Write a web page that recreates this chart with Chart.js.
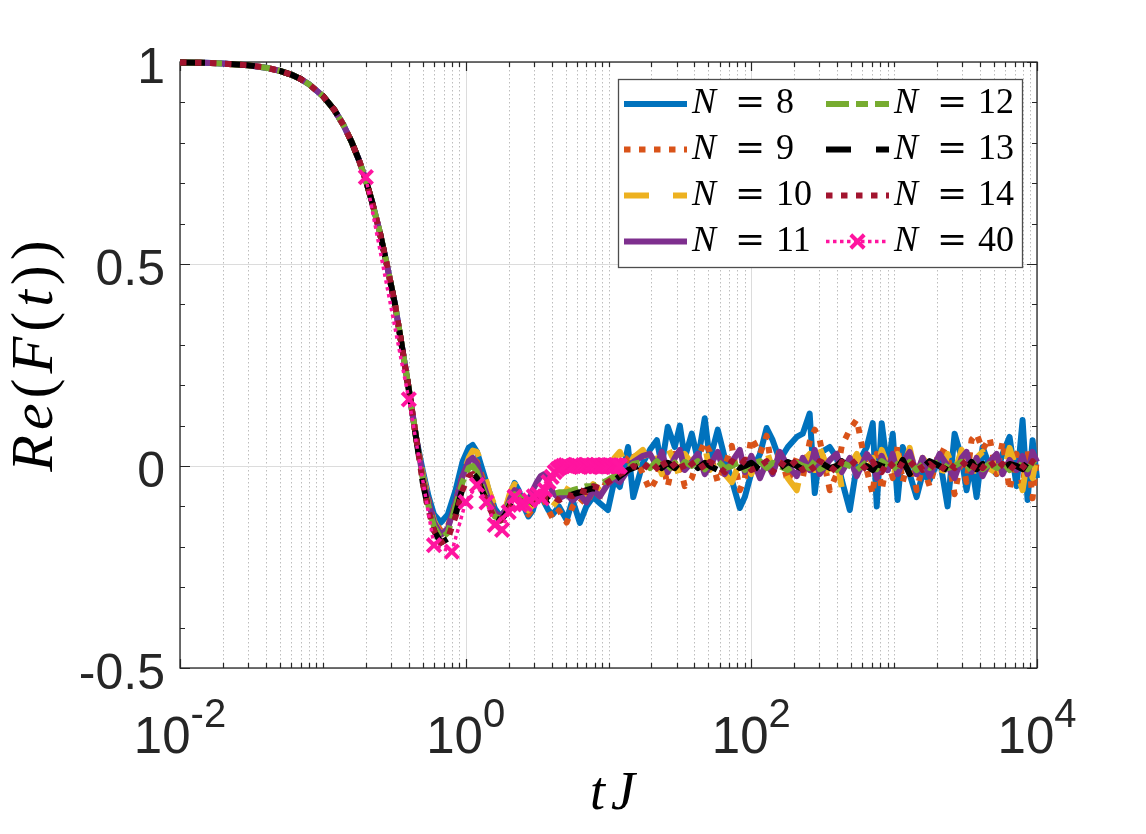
<!DOCTYPE html>
<html><head><meta charset="utf-8">
<script src="https://cdn.jsdelivr.net/npm/chart.js@4.4.1/dist/chart.umd.min.js"></script>
<style>html,body{margin:0;padding:0;background:#fff;}canvas{display:block;}</style>
</head><body>
<canvas id="c" width="1146" height="834"></canvas>
<script>
// ---------- data ----------
const tDecay = [0.01,0.015,0.02,0.03,0.04,0.05,0.06,0.07,0.08,0.1,0.12,0.14,0.16,0.18,0.2,0.22,0.25,0.28,0.32,0.36,0.4,0.45];
const fDecay = [0.999,0.998,0.996,0.992,0.986,0.978,0.969,0.958,0.945,0.916,0.882,0.843,0.800,0.755,0.707,0.657,0.58,0.50,0.40,0.29,0.19,0.07];

const tMid = [0.5,0.55,0.6,0.67,0.75,0.85,0.95,1.05,1.12,1.2,1.3,1.45,1.6,1.75,1.9,2.05,2.2,2.35];
const tTail = [2.55,2.75,2.95,3.15,3.35,3.55,3.8,4.07,4.5,5.1,5.6,6.3,7.0,7.8,8.7,9.9,11,12,13.7,14.9,17.4,19.5,21.8,23.6,26,29.1,31.6,34.2,38.3,42.2,47.2,51.2,58.2,65.2,73,83,90,100,115,128,141,158,180,208,229,256,278,301,354,396,430,489,547,643,708,755,818,902,977,1057,1148,1284,1436,1582,1771,2080,2366,2649,2965,3213,3483,3776,4159,4656,5212,5741,6427,7194,7925,8590,9311,10000];

const n8Mid  = [-0.01,-0.075,-0.12,-0.14,-0.12,-0.06,0.01,0.045,0.052,0.035,-0.005,-0.06,-0.105,-0.125,-0.11,-0.07,-0.042,-0.06];
const n9Mid  = [-0.02,-0.085,-0.135,-0.16,-0.15,-0.09,-0.025,0.01,0.02,0.01,-0.025,-0.075,-0.11,-0.125,-0.11,-0.08,-0.06,-0.075];
const n10Mid = [-0.02,-0.085,-0.135,-0.17,-0.16,-0.095,-0.025,0.02,0.038,0.035,0.005,-0.06,-0.1,-0.12,-0.105,-0.065,-0.045,-0.055];
const n11Mid = [-0.025,-0.09,-0.14,-0.17,-0.155,-0.09,-0.025,0.012,0.02,0.005,-0.035,-0.085,-0.115,-0.125,-0.11,-0.08,-0.06,-0.065];
const n12Mid = [-0.03,-0.1,-0.15,-0.18,-0.165,-0.1,-0.04,-0.005,0.0,-0.015,-0.05,-0.095,-0.125,-0.13,-0.115,-0.085,-0.07,-0.075];
const n13Mid = [-0.04,-0.11,-0.16,-0.19,-0.18,-0.12,-0.055,-0.02,-0.017,-0.03,-0.06,-0.1,-0.128,-0.135,-0.12,-0.095,-0.08,-0.082];
const n14Mid = [-0.04,-0.11,-0.16,-0.19,-0.18,-0.125,-0.06,-0.025,-0.02,-0.035,-0.065,-0.1,-0.13,-0.135,-0.12,-0.1,-0.085,-0.085];

const n8Tail = [-0.1,-0.125,-0.11,-0.075,-0.064,-0.09,-0.11,-0.12,-0.1,-0.134,
 -0.084,-0.141,-0.1,-0.077,-0.092,-0.109,-0.035,-0.052,0.047,-0.077,
 0.007,0.04,0.064,0.0,0.097,0.047,0.10,0.02,0.08,0.015,
 0.118,0.015,0.09,0.02,-0.035,-0.104,-0.077,-0.017,0.03,0.094,
 0.064,0.015,0.047,0.072,0.08,0.13,-0.067,0.032,0.047,0.02,
 -0.035,-0.109,0.0,0.047,0.106,-0.1,0.106,-0.01,0.08,-0.084,
 0.047,-0.02,-0.077,-0.02,-0.035,0.02,-0.1,0.08,0.02,-0.06,
 0.01,-0.077,0.047,0.0,-0.02,0.03,0.072,-0.05,0.114,-0.084,
 0.064,-0.03];
const n9Tail = [-0.1,-0.12,-0.105,-0.08,-0.07,-0.085,-0.11,-0.13,-0.11,-0.14,
 -0.1,-0.08,-0.095,-0.06,-0.075,-0.03,0.0,-0.02,0.02,0.035,
 -0.02,-0.06,-0.03,0.02,-0.05,0.03,0.0,-0.05,-0.03,0.02,
 0.06,0.035,-0.04,0.0,0.05,-0.06,-0.03,0.07,0.03,0.075,
 -0.02,0.04,-0.04,0.02,-0.03,0.06,0.09,0.065,-0.06,-0.02,
 0.05,0.09,0.115,-0.01,-0.07,0.03,-0.06,0.02,-0.03,0.05,
 -0.04,0.03,-0.06,0.0,-0.05,0.04,0.03,-0.07,0.02,-0.04,
 0.065,0.08,0.04,0.07,-0.02,0.06,-0.06,0.03,-0.05,0.04,
 -0.08,0.02];
const n10Tail = [-0.09,-0.11,-0.095,-0.07,-0.06,-0.07,-0.09,-0.1,-0.08,-0.06,
 -0.035,-0.05,-0.07,-0.045,-0.06,-0.02,0.02,0.035,-0.01,0.02,
 0.04,0.0,0.03,-0.02,0.045,0.01,-0.03,0.03,0.005,0.04,
 0.05,-0.01,0.02,-0.02,-0.04,0.01,0.03,-0.02,0.025,0.04,
 -0.01,0.02,-0.03,-0.06,0.01,0.03,-0.01,0.045,-0.02,0.02,
 -0.055,0.0,0.03,-0.03,0.02,-0.02,0.04,0.0,-0.04,0.03,
 -0.01,0.045,-0.03,0.02,0.0,-0.035,0.03,-0.015,0.04,0.0,
 -0.03,0.02,0.035,-0.02,0.01,-0.03,0.045,-0.01,-0.06,0.02,
 -0.03,0.03];
const n11Tail = [-0.09,-0.085,-0.06,-0.04,-0.025,-0.02,-0.04,-0.065,-0.08,-0.07,
 -0.085,-0.07,-0.09,-0.06,-0.075,-0.045,-0.03,-0.04,-0.01,0.01,
 0.025,0.03,0.0,0.035,-0.015,0.02,0.04,-0.01,0.01,0.03,
 -0.02,0.0,0.035,-0.02,0.01,0.04,-0.015,0.025,-0.03,0.01,
 -0.02,0.035,0.0,-0.025,0.02,-0.01,0.04,-0.02,0.015,0.03,
 -0.015,0.02,-0.025,0.03,0.01,-0.03,0.025,-0.01,0.03,-0.02,
 0.01,0.035,-0.02,0.02,-0.025,0.03,0.0,-0.03,0.02,0.035,
 -0.015,0.02,-0.025,0.01,0.03,-0.02,0.015,-0.01,0.025,-0.02,
 0.035,0.01];
const n12Tail = [-0.085,-0.09,-0.08,-0.07,-0.068,-0.07,-0.075,-0.07,-0.065,-0.065,
 -0.06,-0.055,-0.05,-0.05,-0.045,-0.035,-0.025,-0.015,-0.005,0.005,
 0.01,-0.005,0.012,0.0,-0.01,0.008,-0.005,0.01,0.0,0.012,
 -0.008,0.005,0.012,-0.005,0.0,0.01,-0.01,0.005,0.012,-0.005,
 0.008,0.0,-0.01,0.008,0.0,-0.005,0.012,-0.008,0.005,-0.01,
 0.008,0.0,-0.01,0.01,0.0,-0.008,0.012,0.0,-0.01,0.005,
 -0.005,0.01,-0.01,0.005,-0.005,0.012,-0.005,0.0,0.01,-0.01,
 0.0,0.008,-0.008,0.005,-0.005,0.01,-0.01,0.005,0.0,-0.008,
 0.01,0.0];
const n13Tail = [-0.09,-0.1,-0.09,-0.075,-0.07,-0.075,-0.085,-0.08,-0.075,-0.08,
 -0.07,-0.065,-0.06,-0.055,-0.06,-0.05,-0.035,-0.025,-0.01,-0.005,
 0.005,0.0,0.01,-0.005,0.008,-0.005,0.01,0.0,0.012,-0.005,
 0.008,0.0,-0.01,0.005,0.01,-0.005,0.0,0.008,-0.01,0.005,
 0.0,-0.005,0.01,0.0,-0.008,0.005,0.0,0.01,-0.005,0.0,
 0.012,-0.005,0.008,0.0,-0.01,0.005,0.0,-0.005,0.01,-0.01,
 0.015,-0.02,0.01,-0.005,0.012,0.0,-0.01,0.008,0.0,-0.005,
 0.01,-0.008,0.005,0.0,0.008,-0.005,0.005,0.0,-0.008,0.01,
 -0.005,0.0];
const n14Tail = [-0.09,-0.095,-0.085,-0.08,-0.07,-0.08,-0.08,-0.075,-0.085,-0.07,
 -0.075,-0.06,-0.065,-0.05,-0.055,-0.04,-0.03,-0.02,-0.01,0.0,
 -0.01,0.012,-0.005,0.015,-0.01,0.005,0.015,-0.012,0.005,0.015,
 -0.01,0.01,0.0,-0.015,0.012,0.0,0.015,-0.01,0.0,0.012,
 -0.015,0.01,-0.005,0.015,-0.01,0.005,-0.012,0.012,0.0,-0.015,
 0.01,0.0,0.015,-0.01,0.01,-0.005,-0.015,0.012,0.0,-0.012,
 0.01,0.0,0.015,-0.01,0.005,-0.015,0.01,-0.005,0.012,0.0,
 -0.012,0.01,-0.005,0.015,-0.01,0.005,-0.012,0.01,0.0,-0.01,
 0.012,-0.005];

const tN40 = [0.2,0.4,0.6,0.8,1.0,1.2,1.4,1.6,1.8,2.0,2.2,2.4,2.6,2.8,3.0,3.2,3.4,3.6,3.8,4.0,
 4.2,4.4,4.6,4.8,5.0,5.2,5.4,5.6,5.8,6.0,6.2,6.4,6.6,6.8,7.0,7.2,7.4,7.6,7.8,8.0,
 8.2,8.4,8.6,8.8,9.0,9.2,9.4,9.6,9.8,10.0,10.2,10.4,10.6,10.8,11.0,11.2,11.4,11.6,11.8,12.0];
const fN40 = [0.715,0.165,-0.196,-0.212,-0.089,-0.047,-0.09,-0.146,-0.158,-0.114,
 -0.076,-0.096,-0.095,-0.085,-0.075,-0.07,-0.08,-0.06,-0.04,-0.027,
 -0.015,-0.008,-0.003,0.0,0.002,0.0,-0.002,0.0,0.003,0.001,
 0.0,-0.002,0.002,0.0,0.003,0.0,-0.002,0.001,0.002,0.0,
 -0.001,0.002,0.0,0.001,-0.002,0.0,0.002,0.001,0.0,-0.001,
 0.002,0.0,0.001,-0.002,0.0,0.002,0.0,0.001,-0.001,0.0];

const legendNums = ['8','9','10','11','12','13','14','40'];
const xMajor = [0.01, 1, 100, 10000];
const xExp = ['-2','0','2','4'];
const yTicks = [-0.5, 0, 0.5, 1];
const yLabels = ['-0.5','0','0.5','1'];

// ---------- styles ----------
const styles = [
  {color:'#0072BD', width:6, dash:[]},
  {color:'#D95319', width:6, dash:[6.5,8.5]},
  {color:'#EDB120', width:6, dash:[25,24]},
  {color:'#7E2F8E', width:6, dash:[]},
  {color:'#77AC30', width:6, dash:[23,7,12,7]},
  {color:'#000000', width:6, dash:[25,25]},
  {color:'#A2142F', width:6, dash:[6.5,8.5]},
  {color:'#FF149F', width:3.5, dash:[3.5,3.5], marker:true}
];

const tAll = tDecay.concat(tMid, tTail);
const pts = (t, v) => t.map((x, i) => ({x: x, y: v[i]}));
const seriesValues = [
  fDecay.concat(n8Mid, n8Tail),
  fDecay.concat(n9Mid, n9Tail),
  fDecay.concat(n10Mid, n10Tail),
  fDecay.concat(n11Mid, n11Tail),
  fDecay.concat(n12Mid, n12Tail),
  fDecay.concat(n13Mid, n13Tail),
  fDecay.concat(n14Mid, n14Tail)
];
const datasets = seriesValues.map((v, i) => ({
  label: 'N = ' + legendNums[i],
  data: pts(tAll, v),
  borderColor: styles[i].color,
  borderWidth: styles[i].width,
  borderDash: styles[i].dash,
  borderCapStyle: 'butt',
  borderJoinStyle: 'round',
  pointRadius: 0,
  fill: false,
  order: 7 - i,
  clip: 6
}));
datasets.push({
  label: 'N = 40',
  data: pts(tN40, fN40),
  borderColor: styles[7].color,
  borderWidth: styles[7].width,
  borderDash: styles[7].dash,
  borderCapStyle: 'butt',
  pointStyle: 'crossRot',
  pointRadius: 9.5,
  pointBorderWidth: 4,
  pointBorderColor: styles[7].color,
  pointBackgroundColor: styles[7].color,
  fill: false,
  order: 0,
  clip: 10
});

const AX = '#262626';
const axesPlugin = {
  id: 'matlabAxes',
  beforeDatasetsDraw(chart) {
    const {ctx, chartArea: a, scales: {x, y}} = chart;
    const isMajor = v => xMajor.some(M => Math.abs(M - v) / M < 1e-9);
    const xAll = [];
    for (let k = -2; k < 4; k++) for (let m = 1; m < 10; m++) xAll.push(m * Math.pow(10, k));
    xAll.push(10000);
    ctx.save();
    ctx.lineWidth = 1;
    ctx.strokeStyle = '#bdbdbd';
    ctx.setLineDash([1.5, 2.5]);
    xAll.forEach(v => {
      if (isMajor(v)) return;
      const px = Math.round(x.getPixelForValue(v)) + 0.5;
      ctx.beginPath(); ctx.moveTo(px, a.top); ctx.lineTo(px, a.bottom); ctx.stroke();
    });
    ctx.setLineDash([]);
    ctx.strokeStyle = '#dcdcdc';
    xMajor.forEach(v => {
      const px = Math.round(x.getPixelForValue(v)) + 0.5;
      ctx.beginPath(); ctx.moveTo(px, a.top); ctx.lineTo(px, a.bottom); ctx.stroke();
    });
    yTicks.forEach(v => {
      const py = Math.round(y.getPixelForValue(v)) + 0.5;
      ctx.beginPath(); ctx.moveTo(a.left, py); ctx.lineTo(a.right, py); ctx.stroke();
    });
    ctx.strokeStyle = AX; ctx.lineWidth = 1.3;
    ctx.strokeRect(a.left, a.top, a.right - a.left, a.bottom - a.top);
    ctx.lineWidth = 1.2;
    xAll.forEach(v => {
      const px = Math.round(x.getPixelForValue(v)) + 0.5;
      const len = isMajor(v) ? 9 : 5;
      ctx.beginPath();
      ctx.moveTo(px, a.bottom); ctx.lineTo(px, a.bottom - len);
      ctx.moveTo(px, a.top); ctx.lineTo(px, a.top + len);
      ctx.stroke();
    });
    for (let i = -5; i <= 10; i++) {
      const v = i / 10;
      const py = Math.round(y.getPixelForValue(v)) + 0.5;
      const len = (i % 5 === 0) ? 10 : 5;
      ctx.beginPath();
      ctx.moveTo(a.left, py); ctx.lineTo(a.left + len, py);
      ctx.moveTo(a.right, py); ctx.lineTo(a.right - len, py);
      ctx.stroke();
    }
    ctx.restore();
  },
  afterDraw(chart) {
    const {ctx, chartArea: a, scales: {x, y}} = chart;
    ctx.save();
    ctx.fillStyle = AX;
    ctx.font = '50px "Liberation Sans", Arial, sans-serif';
    ctx.textAlign = 'right'; ctx.textBaseline = 'alphabetic';
    yTicks.forEach((v, i) => {
      ctx.fillText(yLabels[i], 165, y.getPixelForValue(v) + 21);
    });
    ctx.textAlign = 'left';
    xMajor.forEach((v, i) => {
      const px = x.getPixelForValue(v);
      ctx.font = '51px "Liberation Sans", Arial, sans-serif';
      const wb = ctx.measureText('10').width;
      ctx.font = '40px "Liberation Sans", Arial, sans-serif';
      const we = ctx.measureText(xExp[i]).width;
      const x0 = px - (wb + we) / 2;
      ctx.font = '51px "Liberation Sans", Arial, sans-serif';
      ctx.fillText('10', x0, 753);
      ctx.font = '40px "Liberation Sans", Arial, sans-serif';
      ctx.fillText(xExp[i], x0 + wb, 727);
    });
    // x title tJ
    ctx.fillStyle = '#000';
    ctx.font = 'italic 54px "Liberation Serif", serif';
    ctx.textAlign = 'left';
    const wt = ctx.measureText('t').width, wj = ctx.measureText('J').width;
    const gap = 6;
    const xs0 = (a.left + a.right) / 2 + 4 - (wt + gap + wj) / 2;
    ctx.fillText('t', xs0, 809);
    ctx.fillText('J', xs0 + wt + gap, 809);
    // y title (rotated)
    const segs = [['R', true], ['e', true], ['(', false], ['F', true], ['(', false], ['t', true], [')', false], [')', false]];
    const fs = 60, sp = 5;
    const fontOf = it => (it ? 'italic ' : '') + fs + 'px "Liberation Serif", serif';
    let total = 0;
    segs.forEach(s => { ctx.font = fontOf(s[1]); total += ctx.measureText(s[0]).width + sp; });
    total -= sp;
    ctx.translate(52, 356);
    ctx.rotate(-Math.PI / 2);
    let cx = -total / 2;
    segs.forEach(s => { ctx.font = fontOf(s[1]); ctx.fillText(s[0], cx, 0); cx += ctx.measureText(s[0]).width + sp; });
    ctx.restore();

    // legend
    ctx.save();
    const L = {left: 618, top: 79, right: 1022, bottom: 267};
    ctx.fillStyle = '#fff';
    ctx.fillRect(L.left, L.top, L.right - L.left, L.bottom - L.top);
    ctx.strokeStyle = '#4d4d4d'; ctx.lineWidth = 1.3;
    ctx.strokeRect(L.left + 0.5, L.top + 0.5, L.right - L.left, L.bottom - L.top);
    const colX = [624, 826];
    const textX = [692, 894];
    const rowY = [104, 149.5, 195.5, 241.5];
    legendNums.forEach((num, i) => {
      const col = Math.floor(i / 4), row = i % 4;
      const st = styles[i];
      const yy = rowY[row];
      const x0 = colX[col], x1 = x0 + 63;
      ctx.strokeStyle = st.color; ctx.lineWidth = st.width;
      ctx.lineCap = 'butt';
      ctx.setLineDash(st.dash);
      ctx.beginPath(); ctx.moveTo(x0, yy); ctx.lineTo(x1, yy); ctx.stroke();
      ctx.setLineDash([]);
      if (st.marker) {
        const r = 9.5 * Math.SQRT1_2, cxm = (x0 + x1) / 2;
        ctx.lineWidth = 4;
        ctx.beginPath();
        ctx.moveTo(cxm - r, yy - r); ctx.lineTo(cxm + r, yy + r);
        ctx.moveTo(cxm - r, yy + r); ctx.lineTo(cxm + r, yy - r);
        ctx.stroke();
      }
      const base = yy + 9;
      const tx = textX[col];
      ctx.fillStyle = '#000';
      ctx.textAlign = 'left'; ctx.textBaseline = 'alphabetic';
      ctx.font = 'italic 36px "Liberation Serif", serif';
      ctx.fillText('N', tx, base);
      ctx.font = '36px "DejaVu Serif", serif';
      ctx.fillText('=', tx + 43, base);
      ctx.font = '36px "Liberation Serif", serif';
      ctx.fillText(num, tx + 84, base);
    });
    ctx.restore();
  }
};

new Chart(document.getElementById('c').getContext('2d'), {
  type: 'line',
  data: {datasets: datasets},
  options: {
    responsive: false,
    animation: false,
    devicePixelRatio: 1,
    layout: {padding: {left: 180, right: 109, top: 62, bottom: 166}},
    plugins: {legend: {display: false}, tooltip: {enabled: false}},
    scales: {
      x: {type: 'logarithmic', min: 0.01, max: 10000, display: false},
      y: {type: 'linear', min: -0.5, max: 1, display: false}
    },
    elements: {line: {tension: 0}}
  },
  plugins: [axesPlugin]
});
</script>
</body></html>
